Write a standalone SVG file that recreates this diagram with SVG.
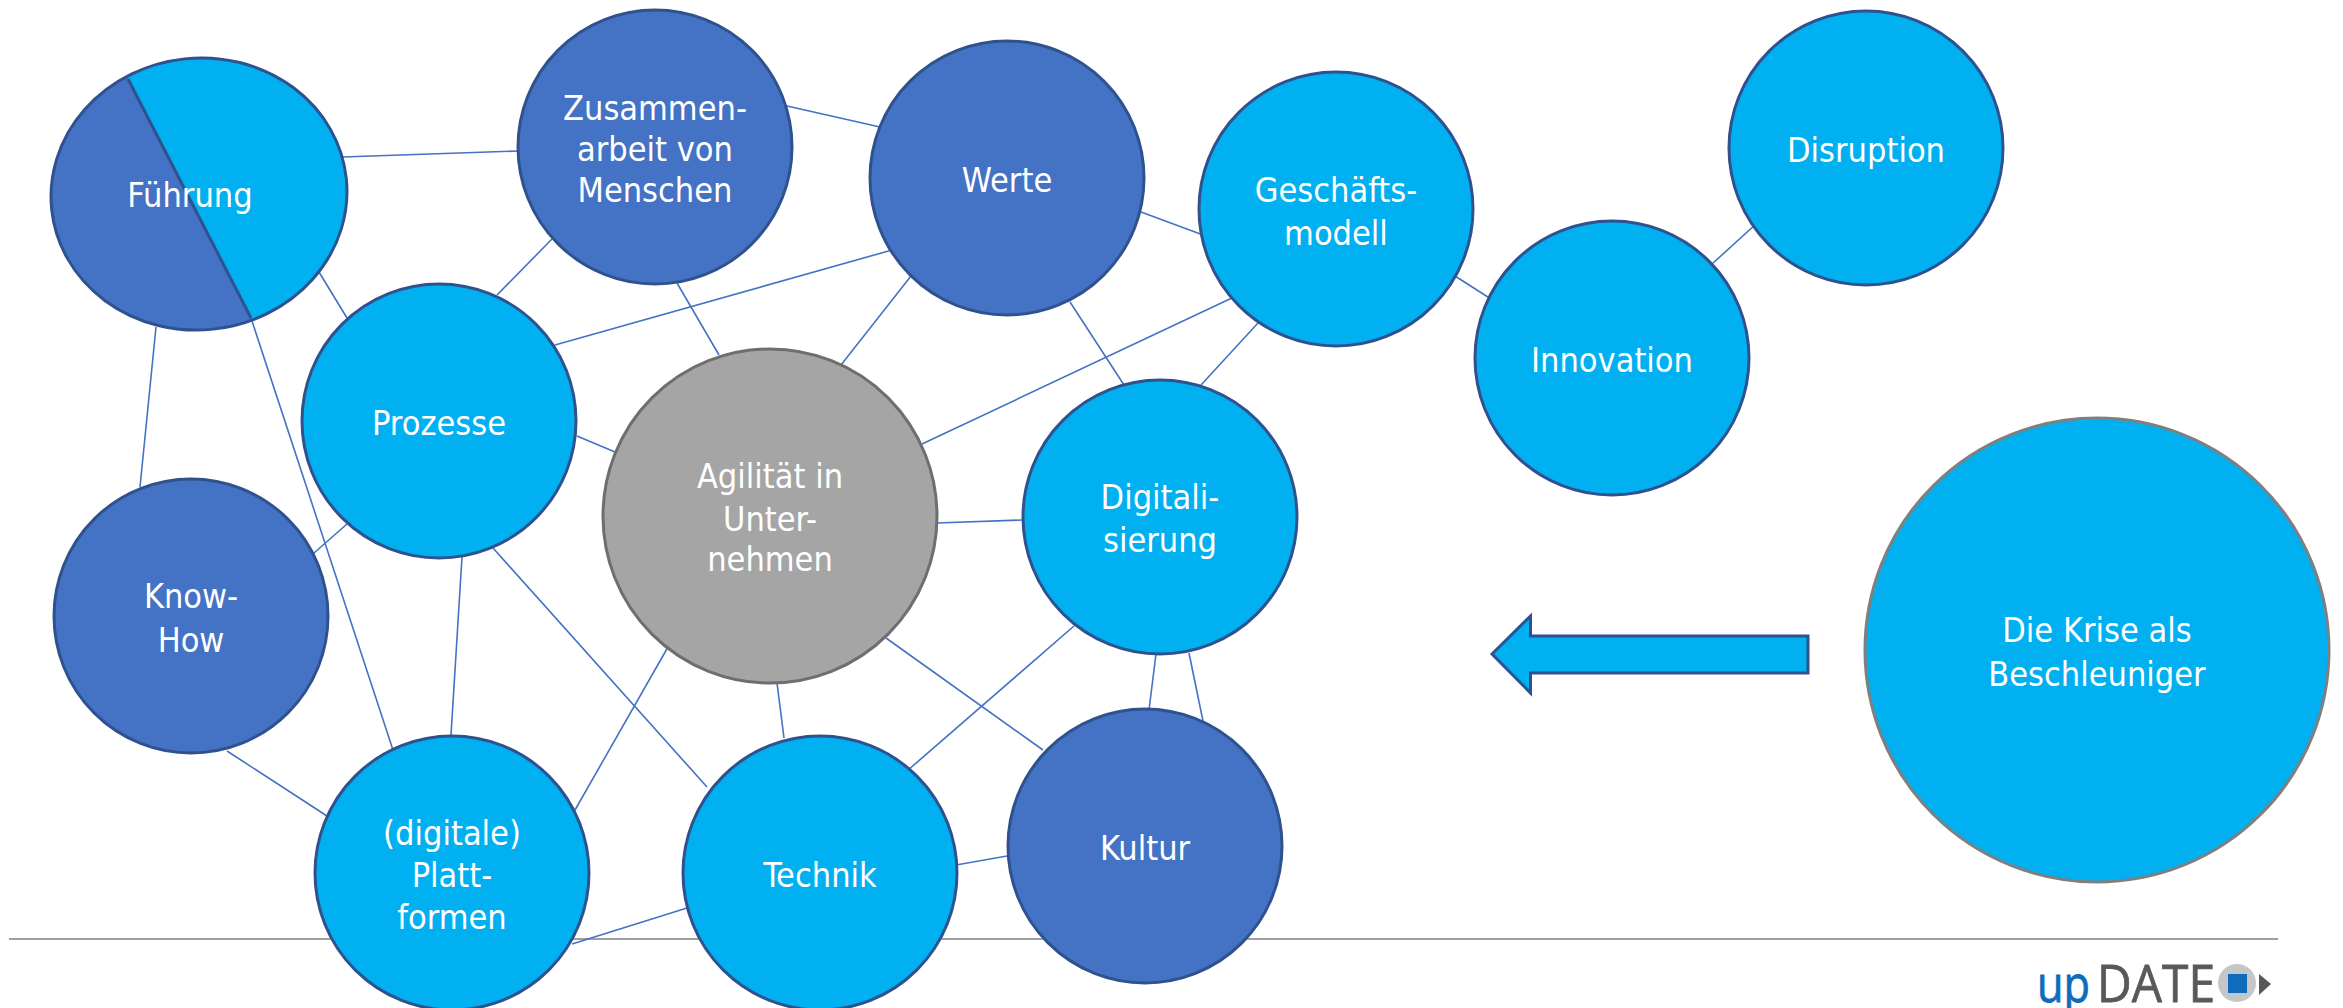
<svg xmlns="http://www.w3.org/2000/svg" width="2343" height="1008" viewBox="0 0 2343 1008">
<style>
.c{stroke:#4472C4;stroke-width:1.6;fill:none}
.n{stroke:#2F528F;stroke-width:3}
.l{fill:#00B0F0}.d{fill:#4472C4}
text{font-family:"DejaVu Sans",sans-serif;font-stretch:condensed;font-size:34px;fill:#fff;text-anchor:middle}
text.lg{font-family:"Open Sans",sans-serif;font-stretch:normal;font-size:52px;text-anchor:start;stroke-width:.8}
</style>
<defs><clipPath id="halb"><path d="M108 40L271 357H0V40Z"/></clipPath></defs>
<rect width="2343" height="1008" fill="#fff"/>
<line x1="9" y1="939" x2="2278" y2="939" stroke="#808080" stroke-width="1.5"/>
<g id="connectors" class="c">
<path d="M342 157L518 151M787 106L880 127M1141 212L1203 235M1455 276L1491 299M1712 264L1756 224M319 272L347 318M251 318L393 750M156 327L140 487M552 239L497 295M677 283L719 355M555 345L892 250M577 436L615 452M911 276L841 365M1070 302L1124 385M1234 297L922 444M1258 323L1201 385M937 523L1023 520M1156 654L1149 710M1189 653L1204 726M1074 626L907 771M886 638L1043 750M777 683L784 738M668 647L575 810M462 557L451 735M493 548L707 787M347 524L314 553M227 751L327 816M572 944L687 908M956 865L1007 856"/>
</g>
<g id="fuehrung">
<ellipse cx="199" cy="194" rx="148.1" ry="135.9" transform="rotate(-6.1 199 194)" class="l"/>
<g clip-path="url(#halb)"><ellipse cx="199" cy="194" rx="148.1" ry="135.9" transform="rotate(-6.1 199 194)" class="d"/></g>
<ellipse cx="199" cy="194" rx="148.1" ry="135.9" transform="rotate(-6.1 199 194)" class="n" fill="none"/>
<line x1="128" y1="79" x2="251" y2="318" class="n"/>
<text x="190" y="207">Führung</text>
</g>
<g id="zusammenarbeit"><circle cx="655" cy="147" r="137" class="n d"/><text x="655" y="120">Zusammen-</text><text x="655" y="161">arbeit von</text><text x="655" y="202">Menschen</text></g>
<g id="werte"><circle cx="1007" cy="178" r="137" class="n d"/><text x="1007" y="192">Werte</text></g>
<g id="geschaeftsmodell"><circle cx="1336" cy="209" r="137" class="n l"/><text x="1336" y="202">Geschäfts-</text><text x="1336" y="245">modell</text></g>
<g id="disruption"><circle cx="1866" cy="148" r="137" class="n l"/><text x="1866" y="162">Disruption</text></g>
<g id="innovation"><circle cx="1612" cy="358" r="137" class="n l"/><text x="1612" y="372">Innovation</text></g>
<g id="krise"><circle cx="2097" cy="650" r="232" class="l" stroke="#7F7F7F" stroke-width="3"/><text x="2097" y="642">Die Krise als</text><text x="2097" y="686">Beschleuniger</text></g>
<g id="prozesse"><circle cx="439" cy="421" r="137" class="n l"/><text x="439" y="435">Prozesse</text></g>
<g id="agilitaet"><circle cx="770" cy="516" r="167" style="fill:#A5A5A5" stroke="#6E6E6E" stroke-width="3"/><text x="770" y="488">Agilität in</text><text x="770" y="531">Unter-</text><text x="770" y="571">nehmen</text></g>
<g id="digitalisierung"><circle cx="1160" cy="517" r="137" class="n l"/><text x="1160" y="509">Digitali-</text><text x="1160" y="552">sierung</text></g>
<g id="knowhow"><circle cx="191" cy="616" r="137" class="n d"/><text x="191" y="608">Know-</text><text x="191" y="652">How</text></g>
<g id="plattformen"><circle cx="452" cy="873" r="137" class="n l"/><text x="452" y="845">(digitale)</text><text x="452" y="887">Platt-</text><text x="452" y="929">formen</text></g>
<g id="technik"><circle cx="820" cy="873" r="137" class="n l"/><text x="820" y="887">Technik</text></g>
<g id="kultur"><circle cx="1145" cy="846" r="137" class="n d"/><text x="1145" y="860">Kultur</text></g>
<path id="pfeil" d="M1492 654L1530.5 616V636H1808V673H1530.5V693Z" class="n l"/>
<g id="logo">
<text class="lg" x="2037" y="1002" textLength="53" lengthAdjust="spacingAndGlyphs" style="fill:#0F6CBD;stroke:#0F6CBD">up</text>
<text class="lg" x="2097" y="1002" textLength="118" lengthAdjust="spacingAndGlyphs" style="fill:#58595B;stroke:#58595B">DATE</text>
<circle cx="2237" cy="983" r="19" fill="#C4C6C8"/>
<rect x="2228" y="974" width="19" height="19" fill="#0F6CBD"/>
<path d="M2259 974L2271 984L2259 995Z" fill="#58595B"/>
</g>
</svg>
